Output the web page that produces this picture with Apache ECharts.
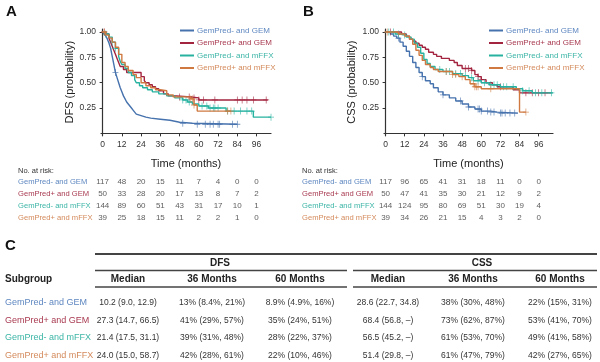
<!DOCTYPE html>
<html><head><meta charset="utf-8">
<script src="https://cdn.jsdelivr.net/npm/echarts@6/dist/echarts.min.js"></script>
<style>html,body{margin:0;padding:0;background:#fff}#c{width:600px;height:362px}</style>
</head><body><div id="c"></div><script>
const FONT = 'Liberation Sans, Arial, sans-serif';
const groups = ['GemPred- and GEM','GemPred+ and GEM','GemPred- and mFFX','GemPred+ and mFFX'];
const lineColors = ['#4672ad','#a3243f','#27b2a0','#cf7940'];
const textColors = ['#5e87c0','#a83a50','#3cb5a6','#d48a5c'];
const xTicks = [0,12,24,36,48,60,72,84,96];
const yTicks = [0.25,0.5,0.75,1.0];

// Panel A: DFS step curves [month, probability]
const dfsGemNeg = [[0,1],[1,0.98],[2,0.96],[3,0.93],[4,0.89],[5,0.84],[6,0.76],[7,0.68],[8,0.6],[9,0.55],[10,0.5],[11,0.45],[12,0.41],[13,0.37],[14,0.34],[15,0.31],[16,0.29],[17,0.27],[18,0.25],[19,0.23],[20,0.21],[21,0.19],[22,0.18],[23,0.17],[25,0.16],[27,0.15],[30,0.14],[36,0.13],[42,0.12],[45,0.11],[48,0.1],[56,0.09],[84,0.09]];
const dfsGemPos = [[0,1],[2,0.98],[4,0.94],[5,0.9],[6,0.86],[7,0.82],[8,0.78],[9,0.74],[10,0.7],[11,0.66],[13,0.63],[15,0.6],[24,0.56],[26,0.52],[27,0.5],[29,0.48],[31,0.46],[33,0.44],[35,0.42],[38,0.39],[41,0.37],[46,0.36],[55,0.35],[60,0.33],[103,0.33]];
const dfsFfxNeg = [[0,1],[2,0.98],[4,0.95],[6,0.9],[8,0.84],[10,0.76],[11,0.71],[12,0.68],[14,0.64],[16,0.6],[18,0.57],[20,0.53],[21,0.5],[23,0.47],[25,0.45],[28,0.43],[31,0.41],[35,0.39],[40,0.37],[45,0.35],[50,0.33],[53,0.31],[56,0.29],[60,0.27],[66,0.25],[77,0.22],[94,0.16],[105,0.16]];
const dfsFfxPos = [[0,1],[2,0.97],[4,0.94],[6,0.9],[8,0.85],[10,0.78],[12,0.7],[14,0.66],[16,0.62],[19,0.58],[21,0.55],[24,0.5],[27,0.47],[30,0.45],[33,0.43],[36,0.42],[40,0.38],[44,0.36],[55,0.34],[57,0.28],[59,0.22],[80,0.22]];
const dfsCensGemNeg = [8,50,59,64,67,69,72,73,81,84];
const dfsCensGemPos = [1,48,54,57,60,63,70,84,87,90,94,102];
const dfsCensFfxNeg = [2,6,8,50,52,54,62,65,67,69,70,72,78,82,86,90,93,105];
const dfsCensFfxPos = [1,55,56,57,78,80];

// Panel B: CSS step curves
const cssGemNeg = [[0,1],[3,0.98],[5,0.96],[7,0.94],[9,0.9],[11,0.86],[13,0.81],[15,0.76],[17,0.7],[19,0.65],[21,0.6],[23,0.56],[25,0.52],[28,0.49],[30,0.45],[33,0.41],[36,0.38],[40,0.35],[44,0.32],[48,0.29],[52,0.26],[56,0.24],[60,0.22],[66,0.21],[70,0.2],[83,0.2]];
const cssGemPos = [[0,1],[10,0.98],[13,0.96],[15,0.93],[17,0.91],[19,0.89],[21,0.87],[23,0.85],[25,0.83],[27,0.8],[30,0.78],[32,0.76],[35,0.74],[40,0.72],[43,0.7],[45,0.67],[48,0.64],[54,0.62],[56,0.58],[58,0.56],[60,0.53],[63,0.5],[67,0.48],[70,0.46],[80,0.43],[84,0.4],[104,0.4]];
const cssFfxNeg = [[0,1],[6,0.98],[10,0.97],[13,0.95],[16,0.93],[18,0.89],[20,0.85],[22,0.79],[24,0.73],[26,0.69],[28,0.66],[31,0.63],[36,0.61],[42,0.59],[48,0.57],[52,0.55],[55,0.52],[60,0.5],[65,0.48],[72,0.46],[82,0.44],[86,0.42],[92,0.4],[105,0.4]];
const cssFfxPos = [[0,1],[8,0.98],[12,0.96],[15,0.93],[17,0.88],[19,0.82],[21,0.77],[23,0.72],[25,0.68],[28,0.65],[30,0.63],[33,0.61],[42,0.58],[46,0.56],[50,0.53],[53,0.49],[56,0.46],[60,0.44],[84,0.21],[88,0.21]];
const cssCensGemNeg = [8,23,36,47,52,58,59,60,64,66,68,72,73,75,78,81];
const cssCensGemPos = [3,50,52,54,58,60,72,88,92,96,100];
const cssCensFfxNeg = [2,5,8,12,34,38,40,44,47,50,54,58,62,66,68,70,74,76,80,86,90,94,98,104];
const cssCensFfxPos = [1,38,42,44,48,55,56,57,58,66,88];

// Numbers at risk
const riskDfs = [[117,48,20,15,11,7,4,0,0],[50,33,28,20,17,13,8,7,2],[144,89,60,51,43,31,17,10,1],[39,25,18,15,11,2,2,1,0]];
const riskCss = [[117,96,65,41,31,18,11,0,0],[50,47,41,35,30,21,12,9,2],[144,124,95,80,69,51,30,19,4],[39,34,26,21,15,4,3,2,0]];

// Table C
const dfsMedian = ['10.2 (9.0, 12.9)','27.3 (14.7, 66.5)','21.4 (17.5, 31.1)','24.0 (15.0, 58.7)'];
const dfs36 = ['13% (8.4%, 21%)','41% (29%, 57%)','39% (31%, 48%)','42% (28%, 61%)'];
const dfs60 = ['8.9% (4.9%, 16%)','35% (24%, 51%)','28% (22%, 37%)','22% (10%, 46%)'];
const cssMedian = ['28.6 (22.7, 34.8)','68.4 (56.8, \u2013)','56.5 (45.2, \u2013)','51.4 (29.8, \u2013)'];
const css36 = ['38% (30%, 48%)','73% (62%, 87%)','61% (53%, 70%)','61% (47%, 79%)'];
const css60 = ['22% (15%, 31%)','53% (41%, 70%)','49% (41%, 58%)','42% (27%, 65%)'];
const colHeaders = ['Median','36 Months','60 Months','Median','36 Months','60 Months'];

const curves = [[dfsGemNeg,dfsGemPos,dfsFfxNeg,dfsFfxPos],[cssGemNeg,cssGemPos,cssFfxNeg,cssFfxPos]];
const censors = [[dfsCensGemNeg,dfsCensGemPos,dfsCensFfxNeg,dfsCensFfxPos],[cssCensGemNeg,cssCensGemPos,cssCensFfxNeg,cssCensFfxPos]];
const risks = [riskDfs, riskCss];

function survAt(curve, t){ let s = curve[0][1]; for (const [x,v] of curve) if (x <= t) s = v; return s; }
const PLUS = 'path://M4.4,0h1.2v10h-1.2zM0,4.4h10v1.2h-10z';

const panelLeft = [101, 384];
const panelW = [170, 169];
const yNameGap = [25, 27];
const riskLabelX = [18, 302];
const riskRowY = [182, 194, 206, 218];
const gridTop = 29, gridH = 106.4;

const grid = [], xAxis = [], yAxis = [], series = [];
for (let p = 0; p < 2; p++) {
  grid.push({left: panelLeft[p], top: gridTop, width: panelW[p], height: gridH, outerBoundsMode:'none', containLabel:false});
  xAxis.push({type:'value', gridIndex:p, min:-1, max:105, name:'Time (months)', nameLocation:'middle', nameGap:23,
    nameTextStyle:{fontFamily:FONT, fontSize:11, color:'#222'},
    axisLine:{lineStyle:{color:'#333', width:1.2}}, splitLine:{show:false},
    axisTick:{customValues:xTicks, length:3, lineStyle:{color:'#333'}},
    axisLabel:{customValues:xTicks, fontFamily:FONT, fontSize:8.5, color:'#333', margin:5}});
  yAxis.push({type:'value', gridIndex:p, min:-0.02, max:1.03, name: p===0?'DFS (probability)':'CSS (probability)',
    nameLocation:'middle', nameGap:yNameGap[p], nameRotate:90, nameTextStyle:{fontFamily:FONT, fontSize:11, color:'#222'},
    axisLine:{show:true, lineStyle:{color:'#333', width:1.2}}, splitLine:{show:false},
    axisTick:{show:true, customValues:yTicks, length:3, lineStyle:{color:'#333'}},
    axisLabel:{customValues:yTicks, fontFamily:FONT, fontSize:8.5, color:'#333', margin:5, formatter:v=>v.toFixed(2)}});
}
// risk-table grids (numbers placed on the same time scale)
for (let p = 0; p < 2; p++) {
  grid.push({left: panelLeft[p], top: 176, width: panelW[p], height: 48, outerBoundsMode:'none', containLabel:false});
  xAxis.push({type:'value', gridIndex:2+p, min:-1, max:105, show:false});
  yAxis.push({type:'category', gridIndex:2+p, inverse:true, data: groups, show:false});
}

for (let p = 0; p < 2; p++) {
  for (let g = 0; g < 4; g++) {
    series.push({name:groups[g], type:'line', step:'end', xAxisIndex:p, yAxisIndex:p, data:curves[p][g],
      showSymbol:false, symbol:'none', lineStyle:{width:1.4, color:lineColors[g]}, itemStyle:{color:lineColors[g]},
      silent:true, animation:false, z:2+g});
    series.push({name:'cens'+p+g, type:'scatter', xAxisIndex:p, yAxisIndex:p,
      data: censors[p][g].map(t=>[t, survAt(curves[p][g], t)]),
      symbol:PLUS, symbolSize:[6,7], itemStyle:{color:lineColors[g]}, silent:true, animation:false, z:2+g});
  }
  const rd = [];
  risks[p].forEach((row,i)=>row.forEach((v,j)=>rd.push([xTicks[j], groups[i], v])));
  series.push({type:'scatter', xAxisIndex:2+p, yAxisIndex:2+p, data:rd, symbolSize:0.1,
    itemStyle:{color:'transparent'}, silent:true, animation:false,
    label:{show:true, position:'inside', formatter:q=>String(q.value[2]), fontFamily:FONT, fontSize:8, color:'#333'}});
}

const legendLeft = [180, 489];
const legend = legendLeft.map(l=>({left:l, top:26, orient:'vertical', padding:0, itemGap:3.5, itemWidth:14, itemHeight:2, icon:'rect',
  selectedMode:false, data: groups.map((n,i)=>({name:n, textStyle:{color:textColors[i]}})),
  textStyle:{fontFamily:FONT, fontSize:8, lineHeight:9, padding:[0,0,0,-2]}}));

// graphics: panel letters, risk header + row labels, table C
const graphic = [];
function txt(x,y,text,opt){ graphic.push({type:'text', x, y, silent:true, style:Object.assign({text, fill:'#222', font:'9px '+FONT,
  textAlign:'left', textVerticalAlign:'middle', verticalAlign:'middle'}, opt||{})}); }
function ln(x1,y1,x2,y2,w){ graphic.push({type:'line', silent:true, shape:{x1,y1,x2,y2}, style:{stroke:'#444', lineWidth:w}}); }
txt(6,12,'A',{font:'bold 15px '+FONT, fill:'#111'});
txt(303,12,'B',{font:'bold 15px '+FONT, fill:'#111'});
txt(5,246,'C',{font:'bold 15px '+FONT, fill:'#111'});
for (let p = 0; p < 2; p++) {
  txt(riskLabelX[p],171,'No. at risk:',{font:'7.5px '+FONT, fill:'#333'});
  groups.forEach((g,i)=>txt(riskLabelX[p], riskRowY[i], g, {font:'7.6px '+FONT, fill:textColors[i]}));
}

ln(95,254,597,254,2);
txt(220,263,'DFS',{font:'bold 10px '+FONT, textAlign:'center'});
txt(482,263,'CSS',{font:'bold 10px '+FONT, textAlign:'center'});
ln(95,270.5,347,270.5,1.5); ln(353,270.5,597,270.5,1.5);
txt(5,279,'Subgroup',{font:'bold 10px '+FONT});
const colX = [128,212,300,388,473,560];
colHeaders.forEach((h,i)=>txt(colX[i],279,h,{font:'bold 10px '+FONT, textAlign:'center'}));
ln(95,287,347,287,1.5); ln(353,287,597,287,1.5);
const rowY = [303,321,338,356];
const cols = [dfsMedian, dfs36, dfs60, cssMedian, css36, css60];
groups.forEach((g,i)=>{
  txt(5,rowY[i],g,{font:'9px '+FONT, fill:textColors[i]});
  cols.forEach((c,j)=>txt(colX[j],rowY[i],c[i],{font:'8.5px '+FONT, fill:'#333', textAlign:'center'}));
});

const chart = echarts.init(document.getElementById('c'), null, {renderer:'canvas'});
chart.setOption({animation:false, backgroundColor:'#fff', grid, xAxis, yAxis, series, legend, graphic});
</script></body></html>
